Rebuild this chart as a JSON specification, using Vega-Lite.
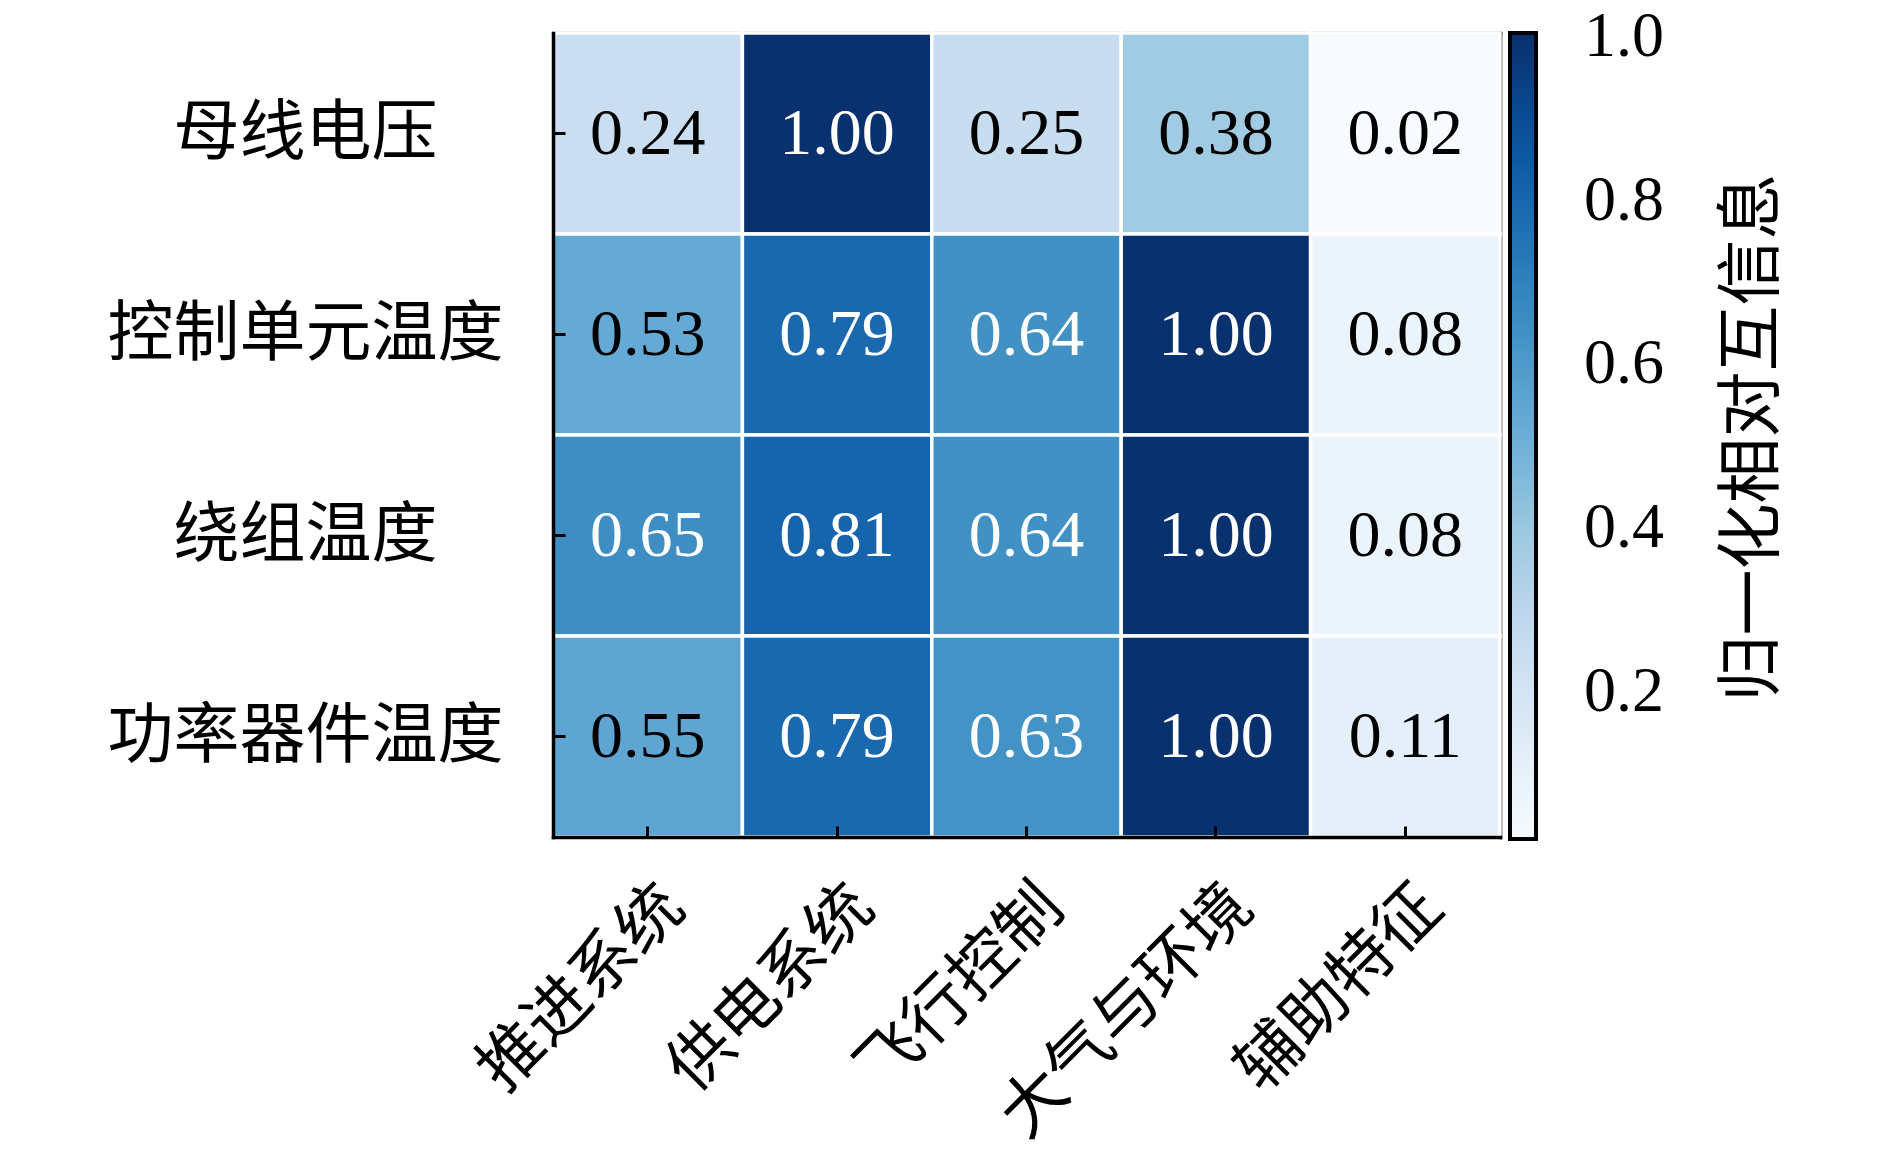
{
  "$schema": "https://vega.github.io/schema/vega-lite/v6.json",
  "autosize": {"type": "none"},
  "padding": {"left": 553, "top": 33, "right": 390, "bottom": 321},
  "width": 947,
  "height": 804,
  "background": "white",
  "config": {
    "view": {"stroke": null},
    "font": "Liberation Serif, Noto Sans CJK SC",
    "axis": {"domainColor": "black", "domainWidth": 3.5, "domainCap": "square", "tickColor": "black", "labelColor": "black", "labelLimit": 0}
  },
  "data": {
    "values": [
      {"target": "母线电压", "group": "推进系统", "v": 0.24},
      {"target": "母线电压", "group": "供电系统", "v": 1.00},
      {"target": "母线电压", "group": "飞行控制", "v": 0.25},
      {"target": "母线电压", "group": "大气与环境", "v": 0.38},
      {"target": "母线电压", "group": "辅助特征", "v": 0.02},
      {"target": "控制单元温度", "group": "推进系统", "v": 0.53},
      {"target": "控制单元温度", "group": "供电系统", "v": 0.79},
      {"target": "控制单元温度", "group": "飞行控制", "v": 0.64},
      {"target": "控制单元温度", "group": "大气与环境", "v": 1.00},
      {"target": "控制单元温度", "group": "辅助特征", "v": 0.08},
      {"target": "绕组温度", "group": "推进系统", "v": 0.65},
      {"target": "绕组温度", "group": "供电系统", "v": 0.81},
      {"target": "绕组温度", "group": "飞行控制", "v": 0.64},
      {"target": "绕组温度", "group": "大气与环境", "v": 1.00},
      {"target": "绕组温度", "group": "辅助特征", "v": 0.08},
      {"target": "功率器件温度", "group": "推进系统", "v": 0.55},
      {"target": "功率器件温度", "group": "供电系统", "v": 0.79},
      {"target": "功率器件温度", "group": "飞行控制", "v": 0.63},
      {"target": "功率器件温度", "group": "大气与环境", "v": 1.00},
      {"target": "功率器件温度", "group": "辅助特征", "v": 0.11}
    ]
  },
  "encoding": {
    "x": {
      "field": "group", "type": "nominal", "title": null,
      "sort": ["推进系统", "供电系统", "飞行控制", "大气与环境", "辅助特征"],
      "scale": {"paddingInner": 0, "paddingOuter": 0}
    },
    "y": {
      "field": "target", "type": "nominal", "title": null,
      "sort": ["母线电压", "控制单元温度", "绕组温度", "功率器件温度"],
      "scale": {"paddingInner": 0, "paddingOuter": 0}
    }
  },
  "layer": [
    {
      "mark": {"type": "rect", "stroke": "white", "strokeWidth": 3.5},
      "encoding": {
        "x": {
          "field": "group", "type": "nominal",
          "sort": ["推进系统", "供电系统", "飞行控制", "大气与环境", "辅助特征"],
          "axis": {
            "orient": "bottom", "labelAngle": -45, "labelAlign": "right", "labelBaseline": "middle",
            "labelFont": "Noto Sans CJK SC", "labelFontSize": 65, "labelOffset": 26, "labelPadding": 70,
            "tickSize": -11, "tickWidth": 3
          }
        },
        "y": {
          "field": "target", "type": "nominal",
          "sort": ["母线电压", "控制单元温度", "绕组温度", "功率器件温度"],
          "axis": {
            "orient": "left", "labelAlign": "center", "labelBaseline": "middle",
            "labelFont": "Noto Sans CJK SC", "labelFontSize": 66, "labelPadding": 260,
            "tickSize": -12, "tickWidth": 3
          }
        },
        "color": {
          "field": "v", "type": "quantitative",
          "scale": {
            "domain": [0.02, 1.005],
            "range": ["#f7fbff", "#deebf7", "#c6dbef", "#9ecae1", "#6baed6", "#4292c6", "#2171b5", "#08519c", "#08306b"]
          },
          "legend": {
            "orient": "none", "legendX": 957, "legendY": 0, "direction": "vertical",
            "gradientLength": 806, "gradientThickness": 26,
            "gradientStrokeColor": "black", "gradientStrokeWidth": 4,
            "values": [0.2, 0.4, 0.6, 0.8, 1.0], "format": ".1f",
            "labelFont": "Liberation Serif", "labelFontSize": 64, "labelOffset": 48,
            "labelBaseline": "middle", "labelOverlap": false, "labelColor": "black", "labelLimit": 0,
            "title": null
          }
        }
      }
    },
    {
      "mark": {"type": "text", "font": "Liberation Serif", "fontSize": 66, "baseline": "middle"},
      "encoding": {
        "x": {
          "field": "group", "type": "nominal",
          "sort": ["推进系统", "供电系统", "飞行控制", "大气与环境", "辅助特征"],
          "axis": {"orient": "top", "labels": false, "ticks": false}
        },
        "y": {
          "field": "target", "type": "nominal",
          "sort": ["母线电压", "控制单元温度", "绕组温度", "功率器件温度"],
          "title": "归一化相对互信息",
          "axis": {
            "orient": "right", "labels": false, "ticks": false,
            "titleFont": "Noto Sans CJK SC", "titleFontSize": 66, "titleFontWeight": "normal", "titleColor": "black",
            "titleAngle": 270, "titleAlign": "center", "titleBaseline": "middle",
            "titleX": 252, "titleY": 404
          }
        },
        "text": {"field": "v", "type": "quantitative", "format": ".2f"},
        "color": {"condition": {"test": "datum.v > 0.6", "value": "white"}, "value": "black"}
      }
    }
  ],
  "resolve": {"axis": {"x": "independent", "y": "independent"}}
}
